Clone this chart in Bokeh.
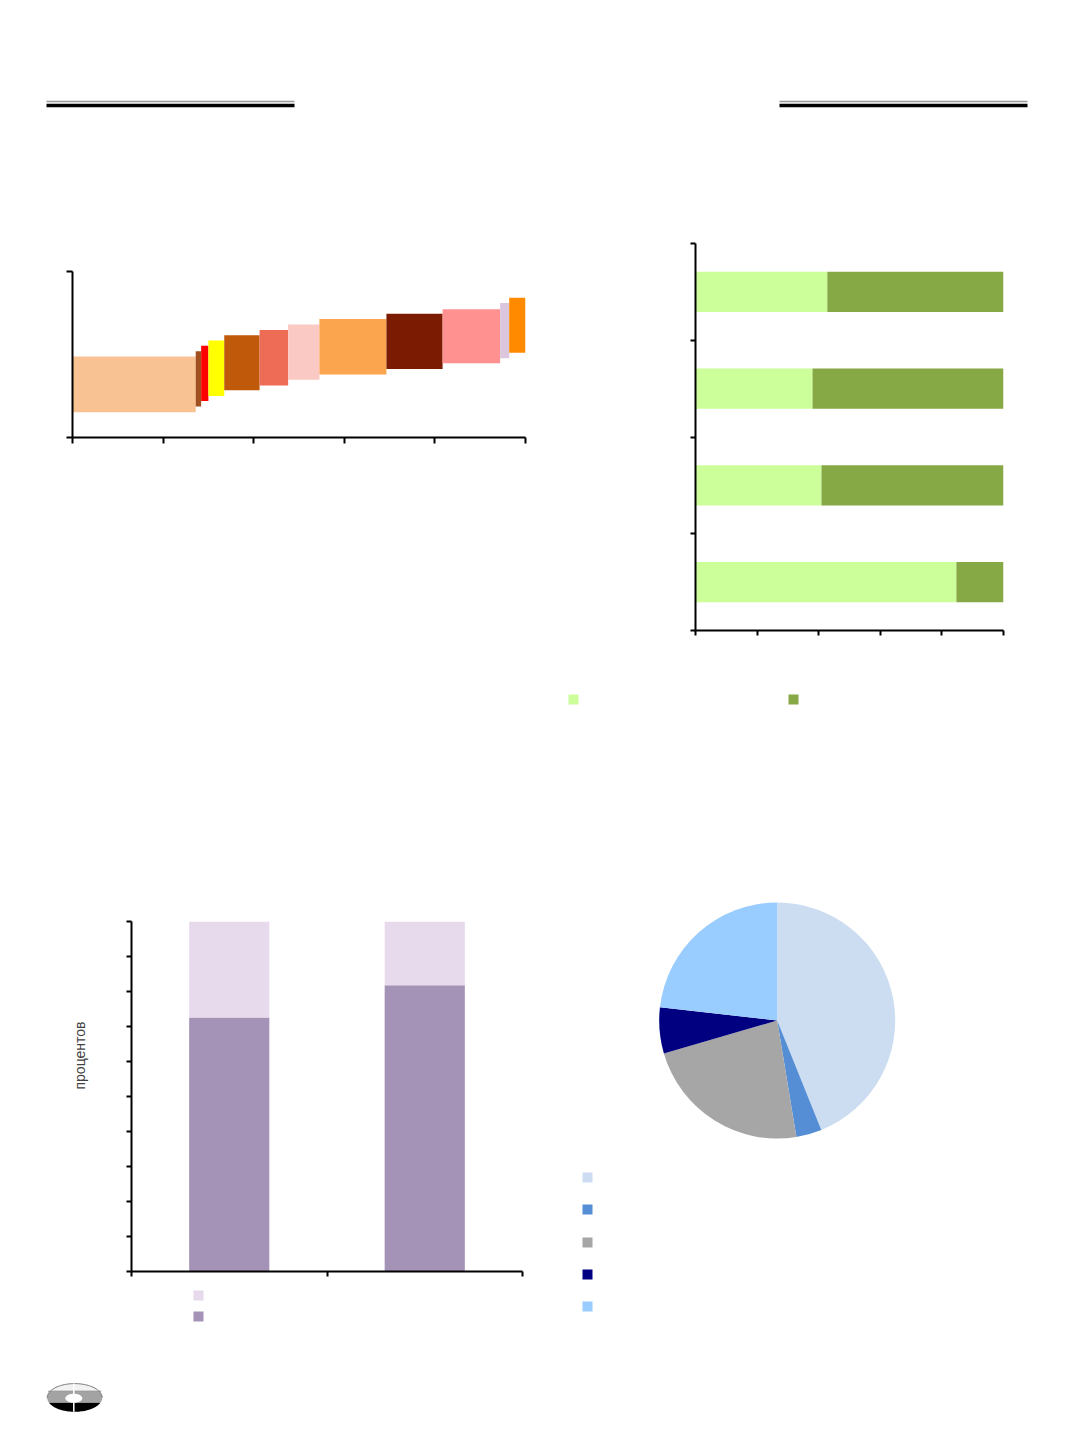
import numpy as np
from bokeh.plotting import figure
from bokeh.layouts import column, row
from bokeh.models import Range1d, FixedTicker, ColumnDataSource, Spacer
from bokeh.embed import file_html
from bokeh.resources import INLINE
from bokeh.core.properties import value

# ---------------- data ----------------
# Chart 1 (top-left): variable-width floating bars
c1_shares = [27.2, 1.2, 1.6, 3.5, 7.8, 6.3, 6.9, 14.8, 12.4, 12.7, 2.0, 3.6]
c1_low = [15.2, 18.6, 22.0, 25.0, 28.4, 31.4, 34.8, 38.0, 41.2, 44.8, 47.8, 51.0]
c1_high = [48.8, 52.0, 55.2, 58.4, 61.6, 64.8, 68.0, 71.4, 74.6, 77.2, 81.0, 84.2]
c1_colors = ["#F9C293", "#A0501E", "#FF0000", "#FFFF00", "#C0590A", "#EE6B56",
             "#FAC9C3", "#FBA64E", "#7B1C02", "#FF9190", "#DCC6DE", "#FF8A00"]
c1_x_ticks = [0, 20, 40, 60, 80, 100]
c1_y_ticks = [0, 100]

# Chart 2 (top-right): 100% stacked horizontal bars (bottom to top)
c2_light = [84.7, 40.9, 38.0, 42.8]
c2_dark = [15.3, 59.1, 62.0, 57.2]
c2_colors = ["#CCFF99", "#86A845"]
c2_x_ticks = [0, 20, 40, 60, 80, 100]
c2_y_ticks = [0, 1, 2, 3, 4]

# Chart 3 (bottom-left): 100% stacked columns
c3_dark = [72.6, 81.8]
c3_light = [27.4, 18.2]
c3_colors = ["#A493B6", "#E6DAEC"]
c3_y_ticks = [0, 10, 20, 30, 40, 50, 60, 70, 80, 90, 100]
c3_x_ticks = [0, 1, 2]
c3_ylabel = "процентов"

# Chart 4 (bottom-right): pie, clockwise from 12 o'clock
c4_shares = [43.9, 3.5, 23.1, 6.3, 23.2]
c4_colors = ["#CCDDF2", "#558ED5", "#A6A6A6", "#000080", "#99CCFF"]

FONT = "Liberation Sans"


def style_axis(ax, ticks, tick_len=6):
    ax.ticker = FixedTicker(ticks=ticks)
    ax.major_label_overrides = {t: "" for t in ticks}
    ax.major_label_text_font_size = "0px"
    ax.major_label_standoff = 0
    ax.minor_tick_line_color = None
    ax.major_tick_in = 0
    ax.major_tick_out = tick_len
    ax.axis_line_width = 2
    ax.major_tick_line_width = 2
    ax.axis_line_color = "black"
    ax.major_tick_line_color = "black"


def chart_fig(w, h, xr, yr, left, right, top, bottom):
    p = figure(width=w, height=h, x_range=xr, y_range=yr, output_backend="svg",
               toolbar_location=None, min_border_left=left, min_border_right=right,
               min_border_top=top, min_border_bottom=bottom)
    p.outline_line_color = None
    p.grid.visible = False
    return p


def canvas_fig(w, h):
    p = figure(width=w, height=h, x_range=Range1d(0, w), y_range=Range1d(0, h),
               output_backend="svg", toolbar_location=None,
               x_axis_type=None, y_axis_type=None, min_border=0)
    p.outline_line_color = None
    p.grid.visible = False
    return p


# ---------------- header ----------------
hdr = canvas_fig(1056, 152)
hdr.segment(x0=[38, 771], y0=[59, 59], x1=[286, 1019], y1=[59, 59],
            line_color="#9A9A9A", line_width=1.4)
hdr.segment(x0=[38, 771], y0=[55, 55], x1=[286, 1019], y1=[55, 55],
            line_color="black", line_width=3.4)

# ---------------- chart 1 ----------------
rights = np.cumsum(c1_shares)
lefts = rights - np.array(c1_shares)
p1 = chart_fig(532, 570, Range1d(0, 100), Range1d(0, 100), 64, 15, 111, 293)
p1.quad(left=lefts, right=rights, bottom=c1_low, top=c1_high,
        fill_color=c1_colors, line_color=None)
style_axis(p1.xaxis[0], c1_x_ticks)
style_axis(p1.yaxis[0], c1_y_ticks)

# ---------------- chart 2 ----------------
src2 = ColumnDataSource(dict(pos=np.arange(len(c2_light)) + 0.5,
                             light=c2_light, dark=c2_dark))
p2 = chart_fig(524, 500, Range1d(0, 100), Range1d(0, 4), 155, 61, 83, 30)
p2.hbar_stack(["light", "dark"], y="pos", height=0.415, color=c2_colors,
              line_color=None, source=src2)
style_axis(p2.xaxis[0], c2_x_ticks, 5)
style_axis(p2.yaxis[0], c2_y_ticks, 5)

leg2 = canvas_fig(524, 70)
leg2.rect(x=[33, 253], y=[31, 31], width=10, height=10,
          fill_color=c2_colors, line_color=None)

# ---------------- chart 3 ----------------
src3 = ColumnDataSource(dict(pos=np.arange(len(c3_dark)) + 0.5,
                             dark=c3_dark, light=c3_light))
p3 = chart_fig(430, 558, Range1d(0, 2), Range1d(0, 100), 21, 18, 191, 17)
p3.vbar_stack(["dark", "light"], x="pos", width=0.41, color=c3_colors,
              line_color=None, source=src3)
style_axis(p3.xaxis[0], c3_x_ticks, 5)
style_axis(p3.yaxis[0], c3_y_ticks, 5)

labfig = canvas_fig(102, 610)
labfig.text(x=[71], y=[285], text=[c3_ylabel], angle=np.pi / 2,
            text_align="center", text_baseline="middle",
            text_font=value(FONT), text_font_size="14px", text_color="#404040")

leg3 = canvas_fig(430, 52)
leg3.rect(x=[88, 88], y=[45, 24], width=10, height=10,
          fill_color=[c3_colors[1], c3_colors[0]], line_color=None)

# ---------------- chart 4 (pie) ----------------
p4 = canvas_fig(524, 610)
frac = np.array(c4_shares) / np.sum(c4_shares)
cum_end = np.cumsum(frac)
cum_start = cum_end - frac
start_ang = np.pi / 2 - 2 * np.pi * cum_end
end_ang = np.pi / 2 - 2 * np.pi * cum_start
p4.wedge(x=236.7, y=320, radius=118, start_angle=start_ang, end_angle=end_ang,
         fill_color=c4_colors, line_color=None)
p4.rect(x=[47] * 5, y=[163, 131, 98, 66, 34], width=10, height=10,
        fill_color=c4_colors, line_color=None)

# ---------------- logo (decoration) ----------------
logo = canvas_fig(1056, 78)
lcx, lcy, la, lb = 66.2, 20.8, 27.5, 14.1
t = np.linspace(0, 2 * np.pi, 120)
ex = lcx + la * np.cos(t)
ey = lcy + lb * np.sin(t)
bands = [(-1e9, 16.0, "black"), (16.0, 27.3, "#A3A3A3"), (27.3, 1e9, "#F2F2F2")]
for lo, hi, col in bands:
    logo.patch(x=ex, y=np.clip(ey, max(lo, lcy - lb), min(hi, lcy + lb)),
               fill_color=col, line_color=None)
logo.segment(x0=[lcx - 26.5], y0=[27.3], x1=[lcx + 26.5], y1=[27.3],
             line_color="#8C8C8C", line_width=1)
logo.line(x=ex[:61], y=ey[:61], line_color="#7A7A7A", line_width=1)
logo.ellipse(x=65.3, y=20.2, width=17, height=9, fill_color="white", line_color=None)
logo.segment(x0=[65.3], y0=[6.7], x1=[65.3], y1=[34.9], line_color="white", line_width=1.5)

layout = row(
    Spacer(width=8),
    column(
        Spacer(height=8),
        hdr,
        row(p1, column(p2, row(leg2))),
        row(labfig, column(p3, row(leg3)), p4),
        logo,
    ),
)

open("out.html", "w").write(file_html(layout, INLINE))
